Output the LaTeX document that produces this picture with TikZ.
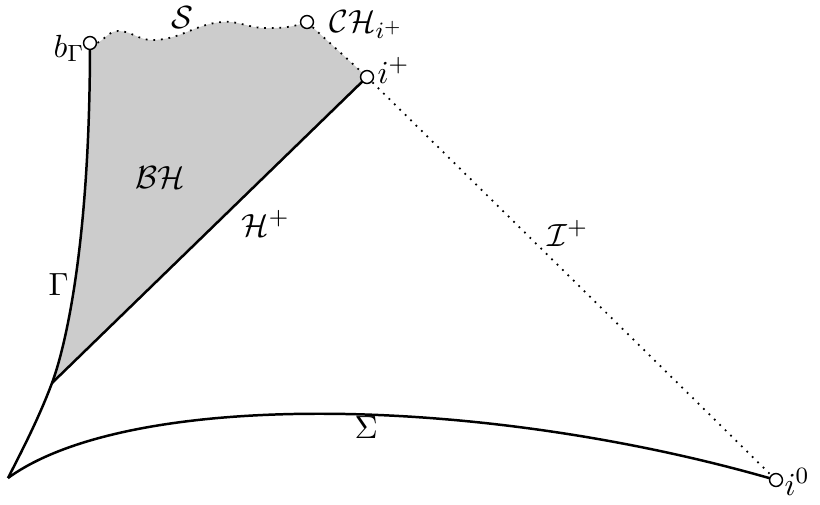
\documentclass[tikz,border=0pt]{standalone}
\usetikzlibrary{calc}
\DeclareMathSizes{11}{11}{8.5}{6.5}
\begin{document}
\begin{tikzpicture}[x=0.3415pt,y=-0.3415pt,
  font=\fontsize{11}{13}\selectfont,
  curve/.style={line width=0.85pt},
  dotline/.style={dotted,line width=0.6pt},
  endpt/.style={circle,draw,fill=white,line width=0.5pt,minimum size=4.4pt,inner sep=0pt},
  lbl/.style={inner sep=0pt,anchor=base west}]
\useasboundingbox (0,0) rectangle (820,504);
% points
\coordinate (O) at (8,478);
\coordinate (J) at (52,383);
\coordinate (bG) at (90,43);
\coordinate (CH) at (307,22);
\coordinate (ip) at (367,77);
\coordinate (i0) at (776,480);
% shaded black hole region
\fill[gray!40] (bG) to[out=-20,in=180] (118,31) to[out=0,in=180] (152,40)
  to[out=0,in=185] (222,22) to[out=5,in=180] (265,28) to[out=0,in=200] (CH)
  -- (ip) -- (J) .. controls (64,351) and (90,250) .. (bG) -- cycle;
% wavy S and CH boundary
\draw[dotline] (bG) to[out=-20,in=180] (118,31) to[out=0,in=180] (152,40)
  to[out=0,in=185] (222,22) to[out=5,in=180] (265,28) to[out=0,in=200] (CH);
\draw[dotline] (CH) -- (ip);
% Gamma
\draw[curve] (O) .. controls (25,445) and (40,415) .. (J)
  .. controls (64,351) and (90,250) .. (bG);
% H+
\draw[curve] (J) -- (ip);
% I+
\draw[dotline] (ip) -- (i0);
% Sigma
\draw[curve] (O) .. controls (129,390) and (480,394) .. (i0);
% endpoints
\node[endpt] (nbG) at (bG) {};
\node[endpt] (nCH) at (CH) {};
\node[endpt] (nip) at (ip) {};
\node[endpt] (ni0) at (i0) {};
% labels
\node[lbl] (lS) at (171,28) {$\mathcal{S}$};
\node[lbl] (lCH) at (329,32) {$\mathcal{CH}_{i^+}$};
\node[lbl] (lip) at (377,83) {$i^+$};
\node[lbl,anchor=base east] (lbG) at (85,57) {$b_\Gamma$};
\node[lbl] (lBH) at (135,188) {$\mathcal{BH}$};
\node[lbl] (lH) at (241,236) {$\mathcal{H}^+$};
\node[lbl] (lI) at (547,246) {$\mathcal{I}^+$};
\node[lbl] (lG) at (48,295) {$\Gamma$};
\node[lbl] (lSig) at (354,438) {$\Sigma$};
\node[lbl] (li0) at (784,495) {$i^0$};
\end{tikzpicture}
\end{document}
